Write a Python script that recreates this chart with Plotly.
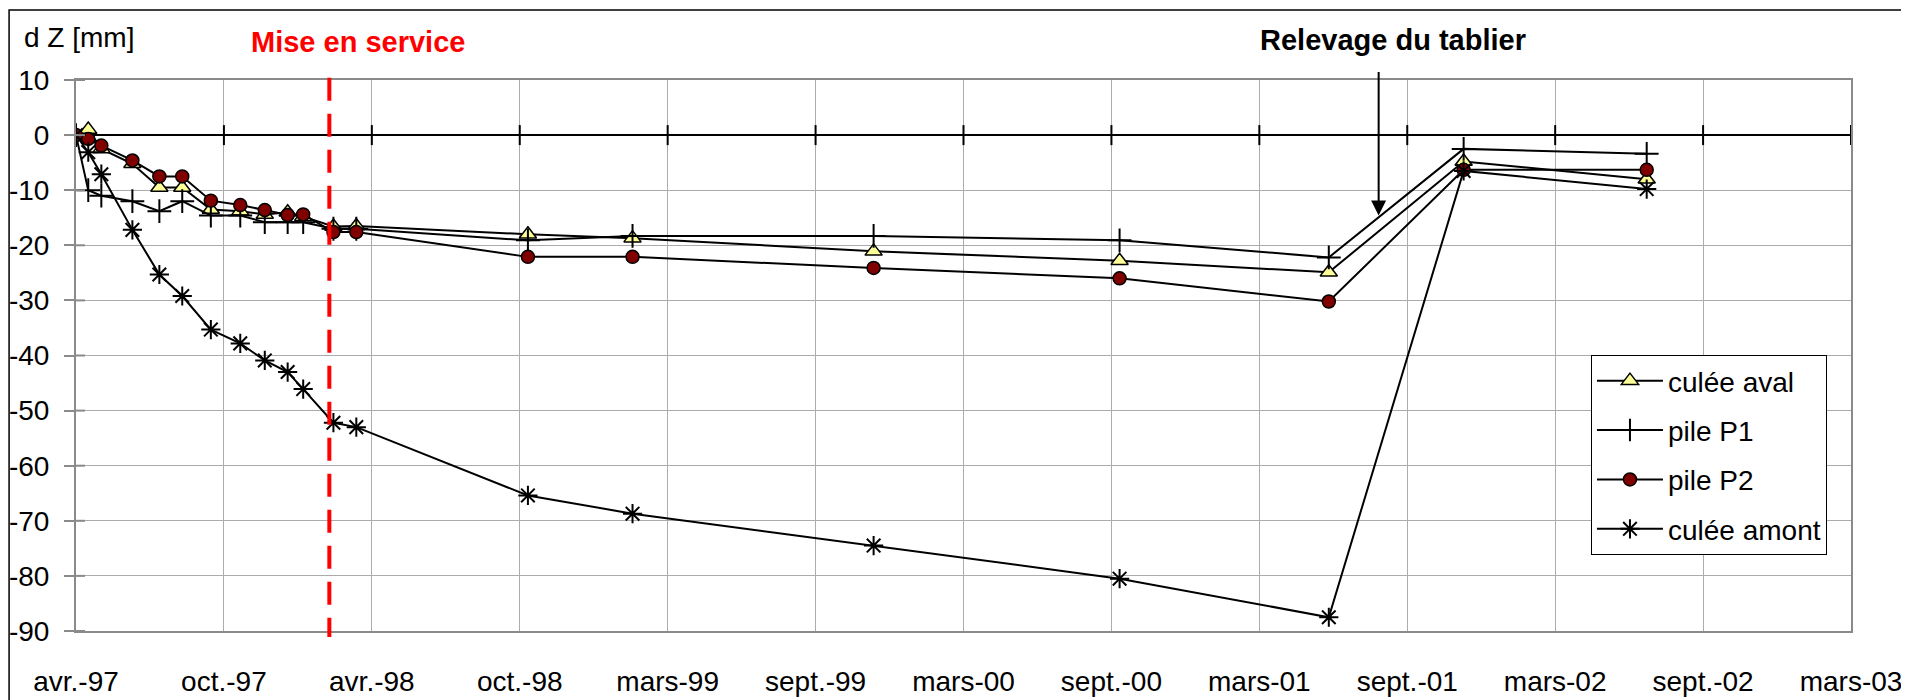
import plotly.graph_objects as go
import pandas as pd

# ---------------- data ----------------
dates = ['1997-04-06', '1997-04-21', '1997-05-07', '1997-06-14', '1997-07-17',
         '1997-08-14', '1997-09-18', '1997-10-24', '1997-11-23', '1997-12-21',
         '1998-01-09', '1998-02-15', '1998-03-15', '1998-10-11', '1999-02-16',
         '1999-12-08', '2000-10-04', '2001-06-17', '2001-11-29', '2002-07-11']

culee_aval = [0, 1.0, -2.5, -5.2, -9.5, -9.5, -13.5, -13.8, -14.4, -14.0,
              -14.8, -16.6, -16.5, -18.0, -18.7, -21.1, -22.8, -24.9, -4.8, -8.0]
pile_p1 = [0, -10.0, -11.0, -12.0, -13.8, -12.0, -14.6, -14.6, -15.8, -15.8,
           -15.8, -17.0, -17.0, -19.1, -18.3, -18.3, -19.1, -22.2, -2.5, -3.4]
pile_p2 = [0, -0.7, -1.9, -4.6, -7.5, -7.5, -11.9, -12.7, -13.6, -14.5,
           -14.4, -17.6, -17.6, -22.1, -22.1, -24.1, -26.0, -30.2, -6.3, -6.3]
culee_amont = [0, -3.1, -7.1, -17.2, -25.3, -29.2, -35.3, -37.8, -40.9, -43.0,
               -46.1, -52.2, -53.0, -65.4, -68.7, -74.5, -80.5, -87.5, -6.5, -9.8]

x_tick_labels = ['avr.-97', 'oct.-97', 'avr.-98', 'oct.-98', 'mars-99', 'sept.-99',
                 'mars-00', 'sept.-00', 'mars-01', 'sept.-01', 'mars-02', 'sept.-02',
                 'mars-03']
y_tick_values = [10, 0, -10, -20, -30, -40, -50, -60, -70, -80, -90]
y_tick_labels = ['10', '0', '-10', '-20', '-30', '-40', '-50', '-60', '-70', '-80', '-90']

axis_start = '1997-04-06'
axis_step_days = 181
mise_en_service_date = '1998-02-10'
relevage_date = '2001-08-17'
relevage_value = -14.6

# ---------------- figure ----------------
FONT = 'Arial, Liberation Sans, sans-serif'
start = pd.Timestamp(axis_start)
tickvals = [start + pd.Timedelta(days=axis_step_days * k) for k in range(len(x_tick_labels))]

fig = go.Figure()

series = [
    ('culée aval', culee_aval, dict(symbol='triangle-up', size=15, color='#FFFF99',
                                    line=dict(color='black', width=1.5))),
    ('pile P1', pile_p1, dict(symbol='cross-thin', size=17,
                              line=dict(color='black', width=2))),
    ('pile P2', pile_p2, dict(symbol='circle', size=13, color='#800000',
                              line=dict(color='black', width=1.5))),
    ('culée amont', culee_amont, dict(symbol='asterisk-open', size=16,
                                      line=dict(color='black', width=2))),
]
for i, (name, vals, marker) in enumerate(series):
    fig.add_trace(go.Scatter(
        x=dates, y=vals, name=name, mode='lines+markers',
        line=dict(color='black', width=2), marker=marker,
        legendgroup=f'g{i}', hoverinfo='skip'))

grid_col = '#ababab'
frame_col = '#8a8a8a'

fig.update_xaxes(
    type='date', range=[tickvals[0], tickvals[-1]],
    tickvals=tickvals, ticktext=x_tick_labels,
    showgrid=True, gridcolor=grid_col, gridwidth=1,
    showline=True, mirror=True, linecolor=frame_col, linewidth=2,
    ticks='outside', ticklen=24, tickcolor='rgba(0,0,0,0)',
    tickfont=dict(family=FONT, size=28, color='black'),
    zeroline=False, fixedrange=True, automargin=False)
fig.update_yaxes(
    range=[-90, 10], tickvals=y_tick_values, ticktext=y_tick_labels,
    showgrid=True, gridcolor=grid_col, gridwidth=1,
    showline=True, mirror=True, linecolor=frame_col, linewidth=2,
    ticks='outside', ticklen=10, tickwidth=2, tickcolor=frame_col,
    ticklabelstandoff=9,
    tickfont=dict(family=FONT, size=28, color='black'),
    zeroline=True, zerolinecolor='black', zerolinewidth=2, fixedrange=True,
    automargin=False)

shapes = []
# outer chart border
shapes.append(dict(type='rect', xref='paper', yref='paper',
                   x0=-0.0377, x1=1.0293, y0=-0.14, y1=1.127,
                   line=dict(color='black', width=1.5), layer='below'))
# tick marks on the zero line
for tv in tickvals:
    shapes.append(dict(type='line', xref='x', yref='y', ysizemode='pixel', yanchor=0,
                       x0=tv, x1=tv, y0=-10, y1=10,
                       line=dict(color='black', width=2)))
# inner part of the y ticks
for yv in y_tick_values:
    shapes.append(dict(type='line', xref='paper', yref='y', xsizemode='pixel', xanchor=0,
                       x0=0, x1=9, y0=yv, y1=yv,
                       line=dict(color=frame_col, width=2)))
# "Mise en service" red dashed line (drawn top to bottom)
shapes.append(dict(type='line', xref='x', yref='paper',
                   x0=mise_en_service_date, x1=mise_en_service_date,
                   y0=1.004, y1=-0.011,
                   line=dict(color='#FF0000', width=4, dash='23px,13px')))
fig.update_layout(shapes=shapes)

annotations = [
    dict(text='d Z [mm]', xref='paper', yref='paper', x=-0.0306, y=1.078,
         xanchor='left', yanchor='middle', showarrow=False,
         font=dict(family=FONT, size=28, color='black')),
    dict(text='Mise en service', xref='paper', yref='paper', x=0.1589, y=1.069,
         xanchor='center', yanchor='middle', showarrow=False,
         font=dict(family=FONT, size=29, color='#FF0000', weight='bold')),
    dict(text='Relevage du tablier', xref='paper', yref='paper', x=0.742, y=1.0726,
         xanchor='center', yanchor='middle', showarrow=False,
         font=dict(family=FONT, size=29, color='black', weight='bold')),
    dict(text='', x=relevage_date, y=relevage_value, xref='x', yref='y',
         ax=0, ay=-145, axref='pixel', ayref='pixel', showarrow=True,
         arrowhead=2, arrowsize=1.5, arrowwidth=2, arrowcolor='black'),
]
fig.update_layout(annotations=annotations)

# the page body adds an 8px offset, so the figure is sized/placed to compensate
fig.update_layout(
    width=1901, height=692, autosize=False,
    margin=dict(l=68, r=58, t=72, b=69, autoexpand=False),
    paper_bgcolor='white', plot_bgcolor='white',
    font=dict(family=FONT, color='black'),
    showlegend=True,
    legend=dict(x=0.8535, y=0.501, xanchor='left', yanchor='top',
                bgcolor='white', bordercolor='black', borderwidth=1,
                font=dict(family=FONT, size=28, color='black'),
                itemwidth=66, tracegroupgap=10,
                traceorder='grouped'),
)

fig.write_html('out.html')
